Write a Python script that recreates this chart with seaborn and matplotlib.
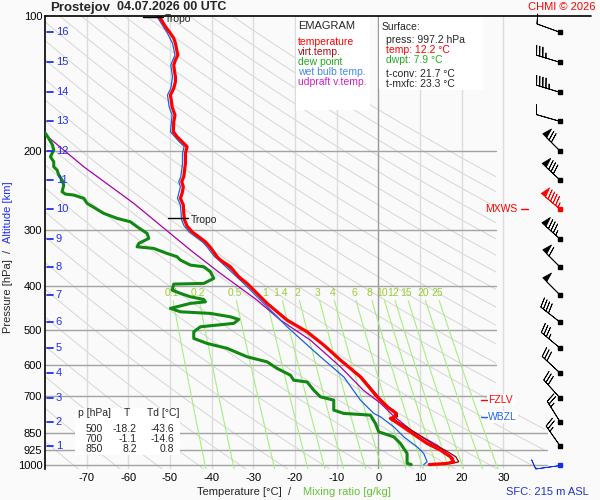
import numpy as np
import pandas as pd
import matplotlib
matplotlib.use("Agg")
import matplotlib.pyplot as plt
from matplotlib.patches import Rectangle, Polygon
from matplotlib.ticker import NullLocator
import seaborn as sns

# ---------------- data ----------------
p_t = [100.0, 101.2, 105.6, 109.3, 112.1, 115.0, 120.1, 122.1, 125.3, 128.6, 133.1, 136.5, 140.1,
       144.9, 150.0, 153.9, 159.2, 166.2, 172.0, 181.0, 185.7, 190.5, 195.4, 202.2, 212.9, 220.3,
       228.0, 233.9, 240.0, 248.3, 254.7, 263.6, 275.1, 284.7, 293.6, 302.4, 310.2, 318.3, 327.5,
       343.6, 349.5, 361.7, 380.8, 393.9, 436.4, 475.4, 504.8, 540.3, 583.6, 636.0, 704.6, 741.6,
       764.7, 780.5, 787.0, 814.5, 850.0, 894.8, 926.0, 958.3, 983.2, 991.3, 997.2]
t_t = [-52.7, -52.3, -51.1, -49.9, -49.1, -48.7, -48.3, -48.1, -48.7, -49.1, -48.9, -48.7, -48.7,
       -49.1, -49.9, -49.7, -49.5, -48.8, -49.1, -49.2, -48.3, -47.1, -45.9, -46.3, -46.3, -46.5,
       -46.7, -47.2, -46.8, -47.1, -47.5, -46.8, -46.7, -46.5, -45.9, -44.7, -43.1, -41.5, -40.3,
       -38.7, -37.9, -35.5, -33.5, -31.5, -26.7, -21.9, -17.1, -13.1, -9.1, -4.3, -0.3, 2.1,
       4.1, 4.1, 2.9, 5.3, 8.2, 11.7, 14.9, 17.3, 18.1, 16.5, 12.2]

p_tv = [350, 394, 436, 475, 505, 540, 584, 636, 705, 742, 765, 780, 787, 815, 850, 895, 926,
        958, 983, 991, 997.2]
t_tv = [-37.8, -31.4, -26.6, -21.8, -17.0, -13.0, -8.9, -4.0, 0.1, 2.5, 4.5, 4.6, 3.5, 6.0, 9.2,
        12.8, 16.0, 18.6, 19.3, 17.8, 13.7]

p_tw = [100.0, 109.3, 115.0, 122.1, 128.6, 136.5, 144.9, 150.0, 159.2, 166.2, 181.0, 190.5, 195.4,
        202.2, 212.9, 228.0, 233.9, 240.0, 254.7, 263.6, 284.7, 293.6, 302.4, 318.3, 327.5, 343.6,
        349.5, 393.9, 429.1, 451.6, 492.0, 531.4, 573.8, 636.0, 716.6, 767.1, 780.5, 821.6, 865.0,
        910.6, 941.8, 983.2, 997.2]
t_tw = [-53.2, -50.6, -49.4, -48.8, -49.8, -49.4, -49.8, -50.6, -50.2, -49.5, -49.9, -47.8, -46.6,
        -47.0, -47.0, -47.4, -47.9, -47.5, -48.2, -47.5, -47.2, -46.6, -45.4, -42.2, -41.0, -39.3,
        -38.3, -32.3, -28.3, -25.9, -21.9, -17.9, -13.9, -8.3, -4.3, -1.1, 0.5, 3.7, 6.1,
        9.3, 10.9, 11.7, 10.9]

p_td = [178, 182.5, 187.3, 193.8, 198.8, 205.8, 211.1, 216.6, 220.3, 226.0, 231.9, 237.9, 246.2,
        249.2, 250.4, 254.7, 261.3, 268.1, 275.1, 282.2, 287.2, 294.6, 304.8, 312.7, 320.9, 326.5,
        329.2, 337.8, 343.6, 349.5, 358.6, 361.7, 371.1, 383.9, 393.9, 395.3, 407.6, 414.6, 421.9,
        427.6, 432.9, 436.4, 447.7, 455.6, 459.4, 467.5, 473.7, 483.5, 492.0, 504.8, 522.2, 535.8,
        549.5, 573.8, 588.8, 609.1, 630.5, 647.1, 652.8, 680.9, 704.6, 716.6, 754.2, 767.1, 773.8,
        807.5, 843.1, 865.0, 894.8, 941.8, 990.0, 997.2]
t_td = [-81.5, -79.9, -79.1, -78.2, -77.9, -78.7, -77.9, -77.9, -77.1, -76.7, -75.9, -75.5, -75.9,
        -75.1, -73.1, -70.7, -69.9, -67.9, -65.9, -62.7, -59.5, -57.9, -55.5, -55.1, -57.5, -57.9,
        -53.9, -50.7, -48.3, -47.5, -45.1, -41.9, -40.3, -39.5, -41.9, -49.1, -49.5, -47.5, -45.1,
        -41.9, -41.5, -45.1, -49.9, -47.5, -40.3, -35.5, -33.5, -34.7, -42.7, -44.3, -44.3, -41.1,
        -36.3, -31.5, -26.7, -24.3, -21.1, -20.3, -17.1, -15.5, -13.9, -10.7, -10.7, -8.3, -1.9,
        -0.7, 0.1, 3.7, 5.3, 6.9, 6.9, 7.9]

p_up = [178, 182.5, 216.6, 261.3, 332.0, 374.2, 429.1, 475.4, 526.9, 604.1, 680.9, 727.7, 776.6,
        843.1, 902.6, 966.2]
t_up = [-81.5, -80.3, -70.7, -58.7, -45.1, -37.9, -29.1, -23.5, -16.3, -9.1, -3.6, 0.5, 3.6,
        8.4, 14.1, 18.1]

# altitude (km) marks and wind at those levels
alt_km = [16, 15, 14, 13, 12, 11, 10, 9, 8, 7, 6, 5, 4, 3, 2, 1]
alt_p = [108.6, 126.6, 147.7, 171.3, 199.8, 231.9, 269.0, 313.8, 362.2, 418.1, 480.3, 548.6,
         623.9, 709.4, 802.0, 907.3]
wind_p = alt_p + [997.2]
wind_dir = [290, 287, 287, 286, 315, 313, 310, 312, 315, 315, 308, 310, 313, 318, 328, 325, 262]
wind_spd = [10, 35, 45, 10, 70, 80, 95, 85, 60, 50, 40, 35, 30, 30, 25, 25, 10]

p_levels = [100, 200, 300, 400, 500, 600, 700, 850, 925, 1000]
t_ticks = [-70, -60, -50, -40, -30, -20, -10, 0, 10, 20, 30]
mix_ratios = [0.1, 0.2, 0.5, 1, 1.4, 2, 3, 4, 6, 8, 10, 12, 15, 20, 25]
theta_lines = list(range(190, 470, 10))

tropo_p = [100.4, 282.2]
tropo_t = [-52.7, -46.6]

table_p = [500, 700, 850]
table_t = [-18.2, -1.1, 8.2]
table_td = [-43.6, -14.6, 0.8]

# ---------------- style ----------------
sns.set_theme(style="white")
plt.rcParams['font.family'] = ['Liberation Sans', 'DejaVu Sans']
BG = '#fafafa'
RED = '#ff0000'
GREEN = '#118811'
BLUE = '#1f5fe0'
PURPLE = '#aa00aa'
DARKRED = '#990000'
ALTBLUE = '#2030ee'
MIXGREEN = '#a8ee80'
MIXLAB = '#99cc33'

fig = plt.figure(figsize=(6, 5), dpi=100, facecolor=BG)
ax = fig.add_axes([45 / 600, 31 / 500, 500 / 600, 453 / 500])
ax.set_facecolor(BG)
ax.set_yscale('log')
ax.set_ylim(1020, 100)
ax.set_xlim(-80, 40)

# diagram region (upper part narrower, lower part to the right edge)
region = Polygon([(-80, 100), (28.3, 100), (28.3, 770), (40.5, 770), (40.5, 1020), (-80, 1020)],
                 closed=True, transform=ax.transData, facecolor='none', edgecolor='none')
ax.add_patch(region)

# dry adiabats
pp = np.logspace(2, np.log10(1020), 120)
for th in theta_lines:
    ln, = ax.plot(th * (pp / 1000.0) ** 0.286 - 273.15, pp, color='#d6d6d6', lw=0.7, zorder=0.3)
    ln.set_clip_path(region)

# isotherms
for t in t_ticks:
    ax.axvline(t, color='#999999' if t == 0 else '#dcdcdc', lw=1, zorder=0.5)

# isobars
for p in p_levels[1:]:
    right = 40.5 if p >= 850 else 28.3
    ax.plot([-80, right], [p, p], color='#a3a3a3', lw=1, zorder=0.6, clip_on=False)
ax.plot([-80, 51.1], [100, 100], color='black', lw=1.2, zorder=5, clip_on=False)

# mixing ratio lines
pm = np.linspace(430, 1020, 60)
for w in mix_ratios:
    e = w * pm / (622.0 + w)
    lg = np.log(e / 6.112)
    ax.plot(243.5 * lg / (17.67 - lg), pm, color=MIXGREEN, lw=0.8, zorder=0.7)
    e0 = w * 414 / (622.0 + w)
    l0 = np.log(e0 / 6.112)
    ax.text(243.5 * l0 / (17.67 - l0), 414, f"{w:g}", color=MIXLAB, fontsize=7.5,
            ha='center', va='center', zorder=0.8)

# profiles
def prof(x, y, color, lw, z):
    df = pd.DataFrame({'T': x, 'p': y})
    sns.lineplot(data=df, x='T', y='p', sort=False, estimator=None, color=color,
                 lw=lw, ax=ax, zorder=z)

prof(t_up, p_up, PURPLE, 0.9, 2)
prof(t_td, p_td, GREEN, 2.2, 3)
prof(t_tw, p_tw, BLUE, 0.9, 3.5)
prof(t_tv, p_tv, DARKRED, 0.9, 3.8)
prof(t_t, p_t, RED, 2.3, 4)

ax.set_xlim(-80, 40)
ax.set_ylim(1020, 100)

# tropopause marks
for tp, tt in zip(tropo_p, tropo_t):
    ax.plot([tt - 3.8, tt + 1.0], [tp, tp], color='black', lw=1, zorder=6, clip_on=False)
    ax.text(tt + 1.5, tp * 1.01, 'Tropo', fontsize=7.5, va='center', ha='left', zorder=6)

# altitude marks
for km, p in zip(alt_km, alt_p):
    ax.plot([-79.5, -78.1], [p, p], color=ALTBLUE, lw=1.3, zorder=6, clip_on=False)
    ax.text(-77.4, p, str(km), color=ALTBLUE, fontsize=8, va='center', ha='left', zorder=6)

# level labels
ax.text(33.3, 269.0, 'MXWS', color=RED, fontsize=7.5, va='center', ha='right', zorder=6)
ax.plot([34.3, 36.0], [269.0, 269.0], color=RED, lw=1, zorder=6)
ax.text(26.4, 716, 'FZLV', color=RED, fontsize=7.5, va='center', ha='left', zorder=6,
        bbox=dict(facecolor='white', edgecolor='none', pad=1.0))
ax.plot([24.7, 26.1], [716, 716], color=RED, lw=1, zorder=7)
ax.text(26.4, 781, 'WBZL', color='#2266ee', fontsize=7.5, va='center', ha='left', zorder=6,
        bbox=dict(facecolor='white', edgecolor='none', pad=1.0))
ax.plot([24.7, 26.1], [781, 781], color='#2266ee', lw=1, zorder=7)

# axes cosmetics
ax.set_yticks(p_levels)
ax.set_yticklabels([str(p) for p in p_levels])
ax.yaxis.set_minor_locator(NullLocator())
ax.set_xticks(t_ticks)
ax.set_xticklabels([str(t) for t in t_ticks])
ax.tick_params(axis='both', length=0, labelsize=8, colors='black')
ax.tick_params(axis='y', pad=2)
ax.tick_params(axis='x', pad=3)
ax.set_xlabel('')
ax.set_ylabel('')
for s in ['top', 'right', 'bottom']:
    ax.spines[s].set_visible(False)
ax.spines['left'].set_color('black')
ax.spines['left'].set_linewidth(1.2)
ax.grid(False)

# wind barbs
axw = fig.add_axes([515 / 600, 31 / 500, 85 / 600, 453 / 500], sharey=ax)
axw.set_xlim(0, 1)
axw.axis('off')
xs = 45 / 85
for i, (p, d, s) in enumerate(zip(wind_p, wind_dir, wind_spd)):
    c = RED if i == 6 else ('#1030ee' if i == len(wind_p) - 1 else 'black')
    r = np.deg2rad(d)
    u = -s * np.sin(r)
    v = -s * np.cos(r)
    axw.barbs([xs], [p], [u], [v], length=6.0, barbcolor=c, flagcolor=c, linewidth=0.6,
              sizes=dict(emptybarb=0, spacing=0.13, height=0.38, width=0.22),
              clip_on=False, zorder=3)
    axw.plot([xs], [p], 's', ms=2.4, color=c, clip_on=False, zorder=4)

# ---------------- figure texts and boxes ----------------
def fx(x):
    return x / 600.0

def fy(y):
    return 1 - y / 500.0

def box(x0, y0, x1, y1):
    fig.add_artist(Rectangle((fx(x0), fy(y1)), fx(x1) - fx(x0), fy(y0) - fy(y1),
                             transform=fig.transFigure, facecolor='white', edgecolor='none',
                             zorder=8))

def ftext(x, y, s, **kw):
    kw.setdefault('fontsize', 7.5)
    kw.setdefault('va', 'center')
    kw.setdefault('ha', 'left')
    fig.text(fx(x), fy(y), s, zorder=9, **kw)

ftext(50, 7.5, 'Prostejov', fontsize=9.5, fontweight='bold')
ftext(117, 7.5, '04.07.2026 00 UTC', fontsize=9, fontweight='bold')
ftext(596, 7, 'CHMI © 2026', fontsize=8, color=RED, ha='right')

box(296, 17, 370, 110)
ftext(298, 26, 'EMAGRAM', fontsize=8)
ftext(298, 42, 'temperature', color=RED)
ftext(298, 52, 'virt.temp.', color='#aa1111')
ftext(298, 62, 'dew point', color='#22aa22')
ftext(298, 72, 'wet bulb temp.', color='#4488ee')
ftext(298, 82, 'udpraft v.temp.', color='#cc22cc')

box(379, 17, 483, 90)
ftext(382, 27.5, 'Surface:')
ftext(386, 40, 'press: 997.2 hPa')
ftext(386, 50, 'temp: 12.2 °C', color=RED)
ftext(386, 60, 'dwpt: 7.9 °C', color='#22aa22')
ftext(386, 74, 't-conv: 21.7 °C')
ftext(386, 84, 't-mxfc: 23.3 °C')

box(75, 408, 180, 455)
ftext(78, 413.5, 'p [hPa]')
ftext(126.5, 413.5, 'T', ha='center')
ftext(147, 413.5, 'Td [°C]')
for k, (p, t, td) in enumerate(zip(table_p, table_t, table_td)):
    yy = 428.5 + 10.2 * k
    ftext(103, yy, f"{p}", ha='right')
    ftext(137, yy, f"{t:.1f}", ha='right')
    ftext(174, yy, f"{td:.1f}", ha='right')

ftext(197, 492, 'Temperature [°C]', fontsize=8)
ftext(288, 492, '/', fontsize=8)
ftext(303, 492, 'Mixing ratio [g/kg]', fontsize=8, color='#66c23a')
ftext(589, 492, 'SFC: 215 m ASL', fontsize=8, color='#2233cc', ha='right')

ftext(8, 296.5, 'Pressure [hPa]', fontsize=8, rotation=90, ha='center')
ftext(8, 251, '/', fontsize=8, rotation=90, ha='center')
ftext(8, 212.5, 'Altitude [km]', fontsize=8, rotation=90, ha='center', color=ALTBLUE)

fig.savefig('out.png', dpi=100, facecolor=BG)
